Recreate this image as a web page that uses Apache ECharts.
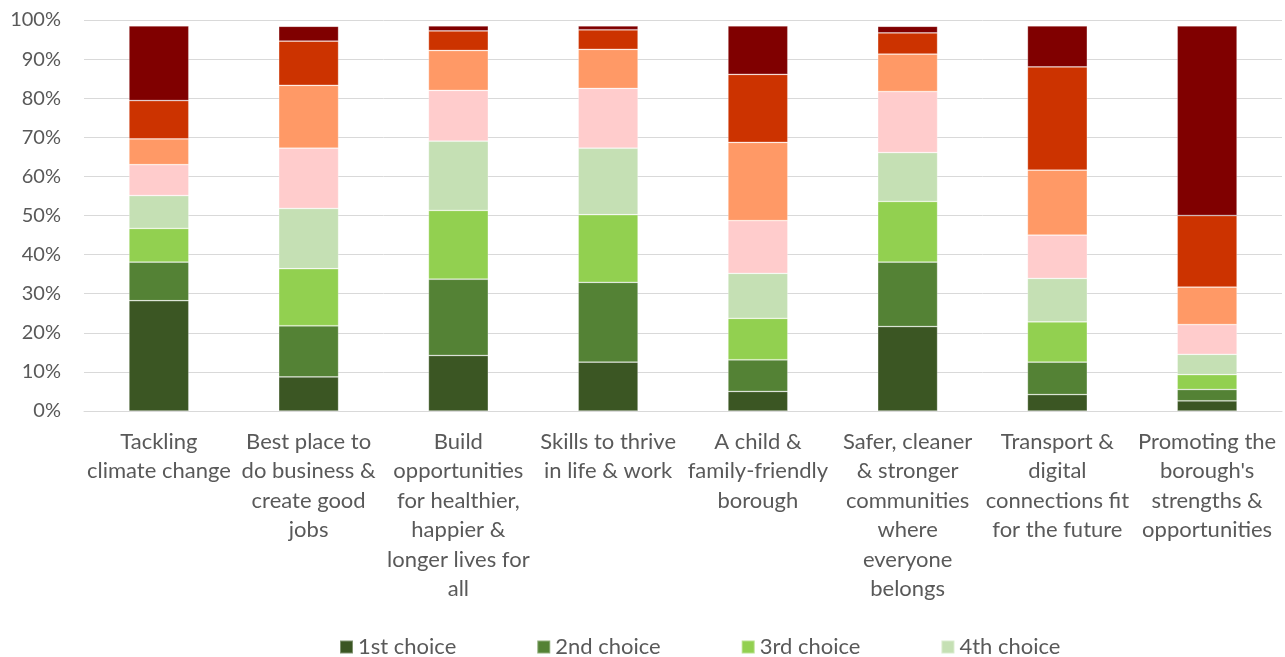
<!DOCTYPE html>
<html>
<head>
<meta charset="utf-8">
<script src="https://cdn.jsdelivr.net/npm/echarts@6/dist/echarts.min.js"></script>
<style>
  html, body { margin: 0; padding: 0; background: #fff; }
  #chart { width: 1285px; height: 657px; }
</style>
</head>
<body>
<div id="chart"></div>
<script>
// categories (line breaks as in the original axis labels)
const categories = [
  "Tackling\nclimate change",
  "Best place to\ndo business &\ncreate good\njobs",
  "Build\nopportunities\nfor healthier,\nhappier &\nlonger lives for\nall",
  "Skills to thrive\nin life & work",
  "A child &\nfamily-friendly\nborough",
  "Safer, cleaner\n& stronger\ncommunities\nwhere\neveryone\nbelongs",
  "Transport &\ndigital\nconnections fit\nfor the future",
  "Promoting the\nborough's\nstrengths &\nopportunities"
];

const seriesNames = [
  "1st choice", "2nd choice", "3rd choice", "4th choice",
  "5th choice", "6th choice", "7th choice", "8th choice"
];

// share of respondents (%) per choice rank, one value per category
const choice1 = [28.2, 8.7, 14.2, 12.5, 5.0, 21.6, 4.2, 2.6];
const choice2 = [9.9, 13.1, 19.5, 20.4, 8.1, 16.5, 8.3, 2.9];
const choice3 = [8.6, 14.6, 17.6, 17.3, 10.6, 15.5, 10.3, 3.8];
const choice4 = [8.4, 15.4, 17.7, 17.0, 11.5, 12.5, 11.1, 5.2];
const choice5 = [7.9, 15.4, 13.0, 15.3, 13.5, 15.6, 11.1, 7.6];
const choice6 = [6.6, 16.1, 10.2, 10.0, 20.0, 9.6, 16.6, 9.6];
const choice7 = [9.8, 11.3, 5.0, 5.0, 17.4, 5.4, 26.4, 18.3];
const choice8 = [19.1, 3.8, 1.3, 1.0, 12.4, 1.7, 10.5, 48.5];

const yTicks = [0, 10, 20, 30, 40, 50, 60, 70, 80, 90, 100];

const colors = ["#3b5623", "#548235", "#92d050", "#c5e0b4",
                "#ffcccc", "#ff9966", "#cc3300", "#800000"];

const values = [choice1, choice2, choice3, choice4, choice5, choice6, choice7, choice8];

const font = "Lato, 'Liberation Sans', sans-serif";

const chart = echarts.init(document.getElementById("chart"));

const option = {
  animation: false,
  color: colors,
  textStyle: { fontFamily: font },
  grid: { left: 84, right: 3, top: 20, bottom: 246, containLabel: false },
  // legend wraps into two rows; the second row falls below the canvas like the original
  legend: {
    data: seriesNames,
    left: 334,
    top: 631,
    width: 780,
    icon: "rect",
    itemWidth: 13,
    itemHeight: 13,
    itemGap: 80,
    textStyle: { fontFamily: font, fontSize: 22, color: "#595959" }
  },
  xAxis: {
    type: "category",
    data: categories,
    axisLine: { show: true, lineStyle: { color: "#d9d9d9", width: 1 } },
    axisTick: { show: false },
    axisLabel: {
      interval: 0,
      margin: 16,
      fontFamily: font,
      fontSize: 22,
      lineHeight: 29.5,
      color: "#595959"
    }
  },
  yAxis: {
    type: "value",
    min: yTicks[0],
    max: yTicks[yTicks.length - 1],
    interval: 10,
    axisLine: { show: false },
    axisTick: { show: false },
    splitLine: { lineStyle: { color: "#d9d9d9", width: 1 } },
    axisLabel: {
      margin: 23,
      fontFamily: font,
      fontSize: 20,
      color: "#595959",
      formatter: "{value}%"
    }
  },
  series: seriesNames.map((name, i) => ({
    name: name,
    type: "bar",
    stack: "total",
    barWidth: "40%",
    data: values[i],
    itemStyle: {
      color: colors[i],
      borderColor: "rgba(255,255,255,0.35)",
      borderWidth: 0.75
    }
  }))
};

chart.setOption(option);
</script>
</body>
</html>
